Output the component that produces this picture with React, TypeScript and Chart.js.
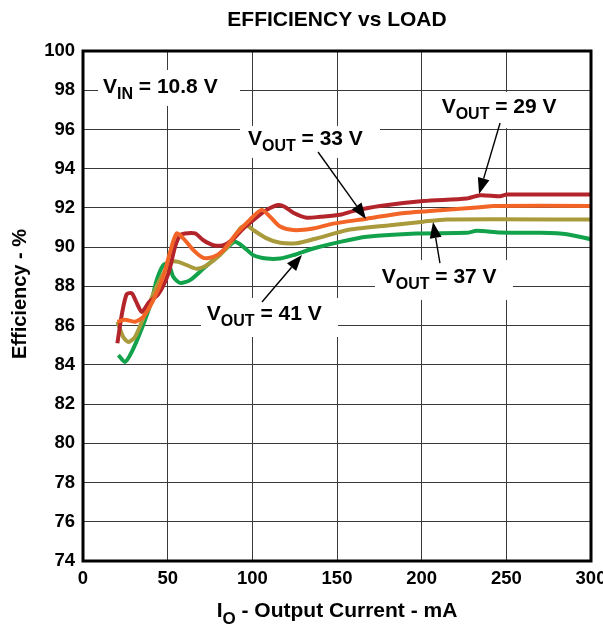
import React, { useEffect, useRef } from 'react';
import { Chart, registerables } from 'chart.js';

Chart.register(...registerables);

const FONT = '"Liberation Sans", Arial, Helvetica, sans-serif';

const TITLE = 'EFFICIENCY vs LOAD';
const Y_TITLE = 'Efficiency - %';
const X_TITLE_MAIN = 'I';
const X_TITLE_SUB = 'O';
const X_TITLE_REST = ' - Output Current - mA';

const X_MIN = 0;
const X_MAX = 300;
const X_STEP = 50;
const Y_MIN = 74;
const Y_MAX = 100;
const Y_STEP = 2;

// VOUT = 29 V (dark red)
const v29X = [20.3, 23, 25.8, 28.8, 31.5, 34.7, 39, 44.5, 50.4, 54.3, 57.3, 60.2, 66.2, 71.1, 77, 82.9, 87.8, 94.7, 101.6, 108.5, 115.4, 119.3, 124.2, 132.1, 140, 151.8, 160, 175.4, 201, 226.6, 234.5, 246.3, 250.3, 300];
const v29Y = [85.1, 86.6, 87.6, 87.65, 87.2, 86.7, 87.2, 87.6, 88.65, 90.0, 90.6, 90.7, 90.7, 90.35, 90.1, 90.1, 90.35, 90.95, 91.45, 91.9, 92.15, 92.05, 91.75, 91.5, 91.55, 91.65, 91.85, 92.1, 92.35, 92.48, 92.65, 92.6, 92.68, 92.68];

// VOUT = 33 V (orange)
const v33X = [20.3, 24.8, 30.7, 35.6, 41.5, 47.4, 51.4, 55.3, 59.2, 65.2, 71.1, 77, 82.9, 90.7, 98.6, 105.5, 110.5, 116.4, 124.2, 136, 147.8, 167.6, 187.2, 210.9, 234.5, 242.4, 300];
const v33Y = [86.2, 86.3, 86.2, 86.45, 87.3, 88.5, 89.75, 90.7, 90.45, 89.85, 89.45, 89.5, 89.85, 90.7, 91.4, 91.9, 91.55, 91.05, 90.87, 90.95, 91.2, 91.45, 91.72, 91.88, 92.03, 92.1, 92.1];

// VOUT = 37 V (olive)
const v37X = [20.3, 23.8, 26.8, 30.7, 36.6, 42.5, 47.4, 52.4, 56.3, 61.3, 67.2, 73.1, 80.9, 87.8, 92.7, 96.7, 100.6, 108.5, 116.4, 126.2, 136, 151.8, 157.7, 181.3, 201, 214.8, 300];
const v37Y = [86.2, 85.42, 85.17, 85.42, 86.6, 87.8, 88.65, 89.25, 89.25, 89.08, 88.9, 89.08, 89.6, 90.27, 90.95, 91.12, 90.87, 90.45, 90.22, 90.2, 90.4, 90.78, 90.9, 91.12, 91.3, 91.41, 91.41];

// VOUT = 41 V (green)
const v41X = [20.9, 24.8, 28.8, 34.7, 40.6, 43.5, 47.4, 50.4, 53.3, 57.3, 63.2, 71.1, 79, 85.8, 89.8, 94.7, 100.6, 108.5, 116.4, 124.2, 136, 151.8, 167.6, 197, 226.6, 232.5, 246.3, 270, 285.7, 300];
const v41Y = [84.5, 84.15, 84.66, 85.85, 87.3, 88.32, 89.08, 89.17, 88.49, 88.18, 88.32, 88.91, 89.5, 90.02, 90.27, 90.02, 89.59, 89.42, 89.42, 89.59, 89.93, 90.27, 90.53, 90.7, 90.73, 90.83, 90.75, 90.73, 90.66, 90.4];

const COLORS = { v29: '#b3242b', v33: '#f26527', v37: '#a99b3b', v41: '#12a24b' };

// Annotation labels: [main, sub, rest], text left (mA), baseline (%), box [x0, x1, yTop, yBottom] in data units
const annoTexts = [
  ['V', 'IN', ' = 10.8 V'],
  ['V', 'OUT', ' = 29 V'],
  ['V', 'OUT', ' = 33 V'],
  ['V', 'OUT', ' = 37 V'],
  ['V', 'OUT', ' = 41 V'],
];
const annoX = [11.8, 211.8, 97.4, 176.4, 73.1];
const annoBaseline = [97.86, 96.82, 95.21, 88.16, 86.29];
const annoBoxes = [
  [8.9, 92.7, 99.03, 97.2],
  [204.9, 291.1, 97.91, 96.07],
  [92.7, 175.4, 96.18, 94.55],
  [172.4, 253.9, 89.34, 87.31],
  [69.7, 150.6, 87.41, 85.42],
];
// Arrows: from (x0,y0) to tip (x1,y1) in data units
const arrows = [
  [246.3, 96.33, 233.9, 92.71],
  [138.8, 94.85, 167.1, 91.44],
  [210.8, 89.19, 206.7, 91.28],
  [105.7, 87.2, 129.3, 89.6],
];

function zip(xs: number[], ys: number[]) {
  return xs.map((x, i) => ({ x, y: ys[i] }));
}

function drawRich(ctx: CanvasRenderingContext2D, x: number, y: number, main: string, sub: string, rest: string, size: number, subSize: number, subDrop: number) {
  ctx.textAlign = 'left';
  ctx.textBaseline = 'alphabetic';
  ctx.font = `bold ${size}px ${FONT}`;
  ctx.fillText(main, x, y);
  let cx = x + ctx.measureText(main).width;
  ctx.font = `bold ${subSize}px ${FONT}`;
  ctx.fillText(sub, cx, y + subDrop);
  cx += ctx.measureText(sub).width;
  ctx.font = `bold ${size}px ${FONT}`;
  ctx.fillText(rest, cx, y);
}

function richWidth(ctx: CanvasRenderingContext2D, main: string, sub: string, rest: string, size: number, subSize: number) {
  ctx.font = `bold ${size}px ${FONT}`;
  let w = ctx.measureText(main).width + ctx.measureText(rest).width;
  ctx.font = `bold ${subSize}px ${FONT}`;
  w += ctx.measureText(sub).width;
  return w;
}

const decorPlugin = {
  id: 'decor',
  beforeDatasetsDraw(chart: any) {
    const { ctx, scales } = chart;
    const xs = scales.x, ys = scales.y;
    ctx.save();
    ctx.fillStyle = '#ffffff';
    annoBoxes.forEach((b) => {
      const x0 = xs.getPixelForValue(b[0]);
      const x1 = xs.getPixelForValue(b[1]);
      const y0 = ys.getPixelForValue(b[2]);
      const y1 = ys.getPixelForValue(b[3]);
      ctx.fillRect(x0, y0, x1 - x0, y1 - y0);
    });
    ctx.restore();
  },
  afterDatasetsDraw(chart: any) {
    const { ctx, scales, chartArea } = chart;
    const xs = scales.x, ys = scales.y;
    ctx.save();
    // border
    ctx.strokeStyle = '#000';
    ctx.lineWidth = 3;
    ctx.strokeRect(chartArea.left, chartArea.top, chartArea.right - chartArea.left, chartArea.bottom - chartArea.top);

    // annotation texts
    ctx.fillStyle = '#000';
    annoTexts.forEach((t, i) => {
      drawRich(ctx, xs.getPixelForValue(annoX[i]), ys.getPixelForValue(annoBaseline[i]), t[0], t[1], t[2], 21, 16, 6);
    });

    // arrows
    arrows.forEach((a) => {
      const x0 = xs.getPixelForValue(a[0]);
      const y0 = ys.getPixelForValue(a[1]);
      const x1 = xs.getPixelForValue(a[2]);
      const y1 = ys.getPixelForValue(a[3]);
      const ang = Math.atan2(y1 - y0, x1 - x0);
      const hl = 16, hw = 6;
      const bx = x1 - hl * Math.cos(ang);
      const by = y1 - hl * Math.sin(ang);
      ctx.strokeStyle = '#000';
      ctx.lineWidth = 1.4;
      ctx.beginPath();
      ctx.moveTo(x0, y0);
      ctx.lineTo(bx, by);
      ctx.stroke();
      ctx.fillStyle = '#000';
      ctx.beginPath();
      ctx.moveTo(x1, y1);
      ctx.lineTo(bx + hw * Math.sin(ang), by - hw * Math.cos(ang));
      ctx.lineTo(bx - hw * Math.sin(ang), by + hw * Math.cos(ang));
      ctx.closePath();
      ctx.fill();
    });

    // main title
    const cxm = (chartArea.left + chartArea.right) / 2;
    ctx.fillStyle = '#000';
    ctx.font = `bold 21px ${FONT}`;
    ctx.textAlign = 'center';
    ctx.textBaseline = 'alphabetic';
    ctx.fillText(TITLE, cxm, 26);

    // x title with subscript
    const w = richWidth(ctx, X_TITLE_MAIN, X_TITLE_SUB, X_TITLE_REST, 21, 17);
    drawRich(ctx, cxm - w / 2, 617, X_TITLE_MAIN, X_TITLE_SUB, X_TITLE_REST, 21, 17, 7);

    // y title
    ctx.save();
    ctx.translate(20, (chartArea.top + chartArea.bottom) / 2 - 12);
    ctx.rotate(-Math.PI / 2);
    ctx.font = `bold 20px ${FONT}`;
    ctx.textAlign = 'center';
    ctx.textBaseline = 'middle';
    ctx.fillText(Y_TITLE, 0, 0);
    ctx.restore();

    ctx.restore();
  },
};

export default function App() {
  const ref = useRef<HTMLCanvasElement>(null);
  useEffect(() => {
    document.body.style.margin = '0';
    if (!ref.current) return;
    const tickFont = { family: FONT, size: 18.5, weight: 'bold' as const };
    const ds = (label: string, xs: number[], ys: number[], color: string, order: number) => ({
      label,
      data: zip(xs, ys),
      borderColor: color,
      backgroundColor: color,
      borderWidth: 4,
      pointRadius: 0,
      tension: 0.25,
      fill: false,
      order,
    });
    const chart = new Chart(ref.current, {
      type: 'line',
      data: {
        datasets: [
          ds('VOUT = 33 V', v33X, v33Y, COLORS.v33, 1),
          ds('VOUT = 29 V', v29X, v29Y, COLORS.v29, 2),
          ds('VOUT = 37 V', v37X, v37Y, COLORS.v37, 3),
          ds('VOUT = 41 V', v41X, v41Y, COLORS.v41, 4),
        ],
      },
      options: {
        animation: false,
        responsive: false,
        devicePixelRatio: 1,
        layout: { autoPadding: false, padding: { top: 51, right: 12, left: 0, bottom: 0 } },
        plugins: {
          legend: { display: false },
          tooltip: { enabled: false },
          title: { display: false },
        },
        scales: {
          x: {
            type: 'linear',
            min: X_MIN,
            max: X_MAX,
            ticks: { stepSize: X_STEP, font: tickFont, color: '#000', padding: 7, maxRotation: 0, autoSkip: false },
            grid: { color: '#3a3a3a', lineWidth: 1, drawTicks: false },
            border: { display: false },
            afterFit: (s: any) => {
              s.height = 65;
              s.paddingLeft = 0;
              s.paddingRight = 0;
            },
          },
          y: {
            type: 'linear',
            min: Y_MIN,
            max: Y_MAX,
            ticks: { stepSize: Y_STEP, font: tickFont, color: '#000', padding: 8, autoSkip: false },
            grid: { color: '#3a3a3a', lineWidth: 1, drawTicks: false },
            border: { display: false },
            afterFit: (s: any) => {
              s.width = 83;
              s.paddingTop = 0;
              s.paddingBottom = 0;
            },
          },
        },
      },
      plugins: [decorPlugin],
    } as any);
    return () => chart.destroy();
  }, []);
  return (
    <div style={{ width: 603, height: 626 }}>
      <canvas ref={ref} width={603} height={626} style={{ display: 'block', width: 603, height: 626 }} />
    </div>
  );
}
